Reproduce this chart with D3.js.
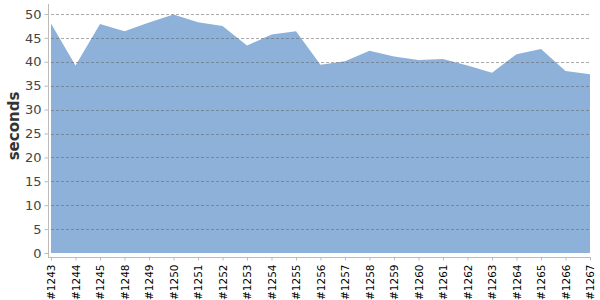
<!DOCTYPE html>
<meta charset="utf-8">
<style>
    body { margin: 0; background: #fff; }
    text { font-family: "DejaVu Sans", sans-serif; }
    .grid line { stroke: #666; stroke-opacity: 0.55; stroke-dasharray: 3,2; }
</style>
<svg width="600" height="300"></svg>
<script src="https://d3js.org/d3.v7.min.js"></script>
<script>

    var builds = ["#1243", "#1244", "#1245", "#1248", "#1249", "#1250", "#1251", "#1252",
        "#1253", "#1254", "#1255", "#1256", "#1257", "#1258", "#1259", "#1260", "#1261",
        "#1262", "#1263", "#1264", "#1265", "#1266", "#1267"];

    var seconds = [48.0, 39.2, 47.9, 46.4, 48.2, 49.9, 48.3, 47.5, 43.4, 45.7, 46.4, 39.4,
        40.1, 42.3, 41.1, 40.4, 40.6, 39.2, 37.7, 41.6, 42.7, 38.1, 37.4];

    var yTicks = [0, 5, 10, 15, 20, 25, 30, 35, 40, 45, 50];

    var svg = d3.select("svg"),
        plotLeft = 51, plotRight = 590, plotTop = 14, plotBottom = 253;

    var x = d3.scalePoint()
        .domain(builds)
        .range([plotLeft, plotRight]);

    var y = d3.scaleLinear()
        .domain([0, 50])
        .range([plotBottom, plotTop]);

    // filled area
    var area = d3.area()
        .x(function(d, i) { return x(builds[i]); })
        .y0(y(0))
        .y1(function(d) { return y(d); });

    svg.append("path")
        .datum(seconds)
        .attr("fill", "#8eb1da")
        .attr("d", area);

    // dashed grid on top
    svg.append("g")
        .attr("class", "grid")
        .selectAll("line")
        .data(yTicks.filter(function(d) { return d > 0; }))
        .enter().append("line")
        .attr("x1", plotLeft)
        .attr("x2", plotRight + 1)
        .attr("y1", function(d) { return Math.round(y(d)) + 0.5; })
        .attr("y2", function(d) { return Math.round(y(d)) + 0.5; });

    // y axis
    var yAxis = svg.append("g")
        .attr("transform", "translate(48.5,0)")
        .call(d3.axisLeft(y).tickValues(yTicks).tickSize(4).tickPadding(3));
    yAxis.select(".domain").attr("stroke", "#bbb").attr("d", "M0,4V257.5");
    yAxis.selectAll(".tick line").attr("stroke", "#bbb");
    yAxis.selectAll("text").attr("font-size", 13).attr("fill", "#444");

    // x axis
    var xAxis = svg.append("g")
        .attr("transform", "translate(0,257.5)")
        .call(d3.axisBottom(x).tickSize(3).tickSizeOuter(0));
    xAxis.select(".domain").attr("stroke", "#bbb").attr("d", "M48,0H591");
    xAxis.selectAll(".tick line").attr("stroke", "#bbb");
    xAxis.selectAll("text")
        .attr("font-size", 10.5)
        .attr("fill", "#000")
        .attr("transform", "rotate(-90)")
        .attr("text-anchor", "end")
        .attr("x", -7)
        .attr("y", 0)
        .attr("dy", "0.35em");

    svg.append("text")
        .attr("transform", "translate(19,126) rotate(-90)")
        .attr("text-anchor", "middle")
        .attr("font-size", 15)
        .attr("font-weight", "bold")
        .attr("fill", "#333")
        .text("seconds");

</script>
